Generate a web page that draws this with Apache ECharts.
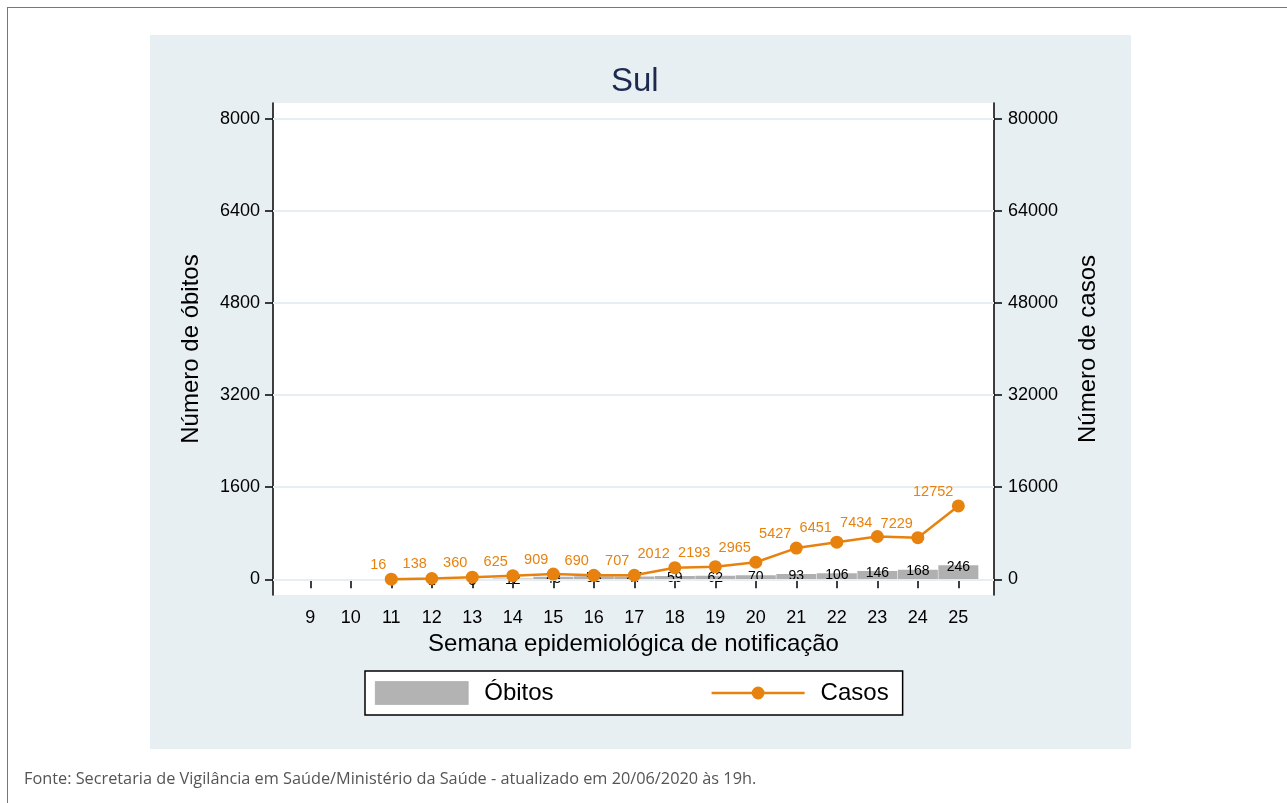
<!DOCTYPE html>
<html>
<head>
<meta charset="utf-8">
<script src="https://cdn.jsdelivr.net/npm/echarts@6/dist/echarts.min.js"></script>
<style>
  html, body { margin: 0; padding: 0; background: #fff; overflow: hidden; }
  #frame {
    position: absolute; left: 7px; top: 7px; width: 1400px; height: 900px;
    border-left: 1px solid #777; border-top: 1px solid #777;
  }
  #panel {
    position: absolute; left: 150px; top: 35px; width: 981px; height: 714px;
    background: #e8eff2;
  }
  #chart { position: absolute; left: 0; top: 0; width: 1287px; height: 803px; }
  #fonte {
    position: absolute; left: 24px; top: 767px;
    font-family: "Open Sans", "Noto Sans", sans-serif; font-size: 16.3px;
    color: #555; white-space: nowrap;
  }
</style>
</head>
<body>
<div id="frame"></div>
<div id="panel"></div>
<div id="chart"></div>
<div id="fonte">Fonte: Secretaria de Vigilância em Saúde/Ministério da Saúde - atualizado em 20/06/2020 às 19h.</div>
<script>
// semanas epidemiológicas
var semanas = [11, 12, 13, 14, 15, 16, 17, 18, 19, 20, 21, 22, 23, 24, 25];
var obitos = [0, 1, 3, 12, 43, 53, 47, 59, 62, 70, 93, 106, 146, 168, 246];
var casos = [16, 138, 360, 625, 909, 690, 707, 2012, 2193, 2965, 5427, 6451, 7434, 7229, 12752];

var xTicks = [9, 10, 11, 12, 13, 14, 15, 16, 17, 18, 19, 20, 21, 22, 23, 24, 25];
var yTicksObitos = [0, 1600, 3200, 4800, 6400, 8000];
var yTicksCasos = [0, 16000, 32000, 48000, 64000, 80000];

var fonte = 'Liberation Sans, Arial, sans-serif';
var laranja = '#e8820e';
// linha + marcador da legenda (caixa 94x14)
var iconeCasos = 'path://M0 5.75H94V8.25H0Z M40.5 7A6.5 6.5 0 1 1 53.5 7A6.5 6.5 0 1 1 40.5 7Z';

var semMilhar = function (v) { return String(v); };

var chart = echarts.init(document.getElementById('chart'), null, { renderer: 'canvas' });

var option = {
  backgroundColor: 'transparent',
  textStyle: { fontFamily: fonte },
  title: {
    text: 'Sul',
    left: 606,
    top: 60,
    textStyle: { fontSize: 33, fontWeight: 'normal', color: '#1c2a50', fontFamily: fonte }
  },
  grid: {
    left: 273, right: 293, top: 103, bottom: 208,
    show: true, backgroundColor: '#ffffff', borderWidth: 0,
    outerBoundsMode: 'none'
  },
  legend: {
    left: 365, top: 671,
    padding: [10, 14, 10, 10],
    itemGap: 158,
    itemWidth: 93, itemHeight: 23,
    symbolKeepAspect: true,
    backgroundColor: '#ffffff',
    borderColor: '#000', borderWidth: 1.5,
    textStyle: { fontSize: 24, color: '#000', fontFamily: fonte, padding: [0, 0, 0, 11] },
    data: [
      { name: 'Óbitos', icon: 'rect', itemStyle: { color: '#b3b3b3', borderColor: '#9a9a9a', borderWidth: 0.5 } },
      { name: 'Casos', icon: iconeCasos, itemStyle: { color: laranja } }
    ]
  },
  xAxis: {
    type: 'value',
    min: 8.08, max: 25.88,
    name: 'Semana epidemiológica de notificação',
    nameLocation: 'middle',
    nameGap: 36,
    nameTextStyle: { fontSize: 24, color: '#000', fontFamily: fonte },
    axisLine: { show: true, lineStyle: { color: '#000', width: 1.5 } },
    axisTick: { show: true, length: 9, customValues: xTicks, lineStyle: { color: '#000', width: 1.5 } },
    axisLabel: { customValues: xTicks, fontSize: 18, color: '#000', margin: 14, fontFamily: fonte, formatter: semMilhar },
    splitLine: { show: false }
  },
  yAxis: [
    {
      type: 'value',
      position: 'left',
      min: -273, max: 8278,
      name: 'Número de óbitos',
      nameLocation: 'middle',
      nameGap: 70,
      nameTextStyle: { fontSize: 24, color: '#000', fontFamily: fonte },
      axisLine: { show: true, lineStyle: { color: '#000', width: 1.5 } },
      axisTick: { show: true, length: 8, customValues: yTicksObitos, lineStyle: { color: '#000', width: 1.5 } },
      axisLabel: { customValues: yTicksObitos, fontSize: 18, color: '#000', margin: 13, fontFamily: fonte, formatter: semMilhar },
      splitLine: { show: false }
    },
    {
      type: 'value',
      position: 'right',
      min: -2730, max: 82780,
      name: 'Número de casos',
      nameLocation: 'middle',
      nameGap: 82,
      nameRotate: 90,
      nameTextStyle: { fontSize: 24, color: '#000', fontFamily: fonte },
      axisLine: { show: true, lineStyle: { color: '#000', width: 1.5 } },
      axisTick: { show: true, length: 8, customValues: yTicksCasos, lineStyle: { color: '#000', width: 1.5 } },
      axisLabel: { customValues: yTicksCasos, fontSize: 18, color: '#000', margin: 14, fontFamily: fonte, formatter: semMilhar },
      splitLine: { show: false }
    }
  ],
  series: [
    {
      name: 'Óbitos',
      type: 'bar',
      yAxisIndex: 0,
      barWidth: 40,
      itemStyle: { color: '#b0b0b0' },
      data: semanas.map(function (s, i) { return [s, obitos[i]]; }),
      label: {
        show: true, position: 'top', distance: -9,
        fontSize: 14, color: '#000', fontFamily: fonte,
        formatter: function (p) { return p.value[1]; }
      },
      markLine: {
        silent: true,
        symbol: 'none',
        label: { show: false },
        lineStyle: { color: '#e6eef1', width: 2, type: 'solid' },
        data: yTicksObitos.map(function (v) { return { yAxis: v }; })
      },
      z: 2
    },
    {
      name: 'Casos',
      type: 'line',
      yAxisIndex: 1,
      symbol: 'circle',
      symbolSize: 13,
      itemStyle: { color: laranja },
      lineStyle: { color: laranja, width: 2.5 },
      data: semanas.map(function (s, i) { return [s, casos[i]]; }),
      label: {
        show: true, position: 'top', distance: 0,
        align: 'right', offset: [-5, 0],
        fontSize: 14.5, color: laranja, fontFamily: fonte,
        formatter: function (p) { return p.value[1]; }
      },
      z: 5
    }
  ]
};

chart.setOption(option);
</script>
</body>
</html>
